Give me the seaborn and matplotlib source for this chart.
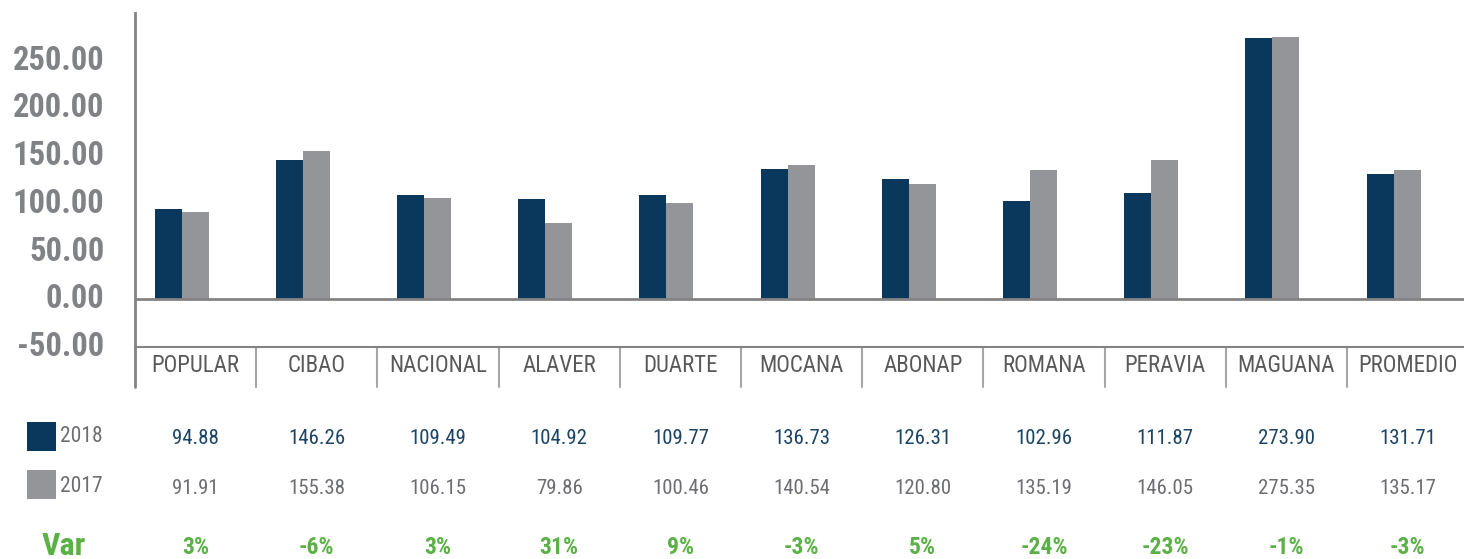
import numpy as np
import pandas as pd
import matplotlib
matplotlib.use("Agg")
import matplotlib.pyplot as plt
import seaborn as sns
from matplotlib import transforms
from matplotlib import font_manager as fm
from matplotlib.patches import Rectangle

categories = ["POPULAR", "CIBAO", "NACIONAL", "ALAVER", "DUARTE", "MOCANA",
              "ABONAP", "ROMANA", "PERAVIA", "MAGUANA", "PROMEDIO"]
values_2018 = [94.88, 146.26, 109.49, 104.92, 109.77, 136.73, 126.31, 102.96, 111.87, 273.90, 131.71]
values_2017 = [91.91, 155.38, 106.15, 79.86, 100.46, 140.54, 120.80, 135.19, 146.05, 275.35, 135.17]
var_labels = ["3%", "-6%", "3%", "31%", "9%", "-3%", "5%", "-24%", "-23%", "-1%", "-3%"]
series_names = ["2018", "2017"]
y_ticks = [-50, 0, 50, 100, 150, 200, 250]

NAVY = "#0A385C"
GREY = "#939598"
GREEN = "#5BB146"
AXIS_GREY = "#838383"

sns.set_theme(style="white")
available = {f.name for f in fm.fontManager.ttflist}
COND = next((f for f in ["Roboto Condensed", "Archivo Narrow", "Asap Condensed",
                         "Barlow Condensed", "Liberation Sans"] if f in available), "DejaVu Sans")
NARROW = [COND, "DejaVu Sans"]
plt.rcParams["font.family"] = NARROW

W, H = 1464, 559
fig = plt.figure(figsize=(W / 100, H / 100), dpi=100)
cell = 121.2
ax = fig.add_axes([135 / W, 1 - 347 / H, 11 * cell / W, (347 - 13) / H])

df = pd.DataFrame({
    "cat": categories * 2,
    "year": [series_names[0]] * len(categories) + [series_names[1]] * len(categories),
    "value": values_2018 + values_2017,
})
sns.barplot(data=df, x="cat", y="value", hue="year", hue_order=series_names,
            order=categories, palette=[NAVY, GREY], width=0.446, saturation=1,
            errorbar=None, legend=False, ax=ax)
shift = -0.115
for p in ax.patches:
    p.set_x(p.get_x() + shift)
    p.set_linewidth(0)

ax.set_xlim(-0.5, 10.5)
ax.set_ylim(-50, 300)
ax.axhline(0, color=AXIS_GREY, lw=2, zorder=3)

for s in ["top", "right"]:
    ax.spines[s].set_visible(False)
ax.spines["left"].set_color(AXIS_GREY)
ax.spines["left"].set_linewidth(2)
ax.spines["bottom"].set_color(AXIS_GREY)
ax.spines["bottom"].set_linewidth(1.5)

ax.set_xlabel("")
ax.set_ylabel("")
ax.set_xticks([])
ax.set_yticks(y_ticks)
ax.set_yticklabels([f"{v:.2f}" for v in y_ticks])
ax.tick_params(axis="y", length=0, pad=22, labelsize=23.5, labelcolor="#808285")
lift = transforms.ScaledTranslation(0, 3.5 / 100, fig.dpi_scale_trans)
for lbl in ax.get_yticklabels():
    lbl.set_fontweight("bold")
    lbl.set_family(NARROW)
    lbl.set_transform(lbl.get_transform() + lift)

# category cells below the axis
bt = transforms.blended_transform_factory(ax.transData, ax.transAxes)
drop = 40 / (347 - 13)
for i in range(len(categories)):
    ax.plot([i - 0.5, i - 0.5], [0, -drop], transform=bt, clip_on=False,
            color=AXIS_GREY if i == 0 else "#A6A6A6", lw=2 if i == 0 else 1.5)

ft = transforms.blended_transform_factory(ax.transData, fig.transFigure)
def fy(py):
    return 1 - py / H

for i, c in enumerate(categories):
    ax.text(i, fy(366), c, transform=ft, ha="center", va="center",
            fontsize=16.5, color="#595959")
    ax.text(i, fy(438), f"{values_2018[i]:.2f}", transform=ft, ha="center",
            va="center", fontsize=15, color="#1B4466")
    ax.text(i, fy(488), f"{values_2017[i]:.2f}", transform=ft, ha="center",
            va="center", fontsize=15, color="#6D6E71")
    ax.text(i, fy(547), var_labels[i], transform=ft, ha="center",
            va="center", fontsize=17, color=GREEN, fontweight="bold")

# legend table
fig.add_artist(Rectangle((27 / W, fy(451)), 29 / W, 29 / H, transform=fig.transFigure,
                         facecolor=NAVY, edgecolor="none"))
fig.add_artist(Rectangle((27 / W, fy(499)), 29 / W, 29 / H, transform=fig.transFigure,
                         facecolor=GREY, edgecolor="none"))
fig.text(60 / W, fy(437), series_names[0], ha="left", va="center", fontsize=15.5, color="#6D6E71")
fig.text(60 / W, fy(487), series_names[1], ha="left", va="center", fontsize=15.5, color="#6D6E71")
fig.text(42 / W, fy(546), "Var", ha="left", va="center", fontsize=23,
         color=GREEN, fontweight="bold")

fig.savefig("out.png", dpi=100)
